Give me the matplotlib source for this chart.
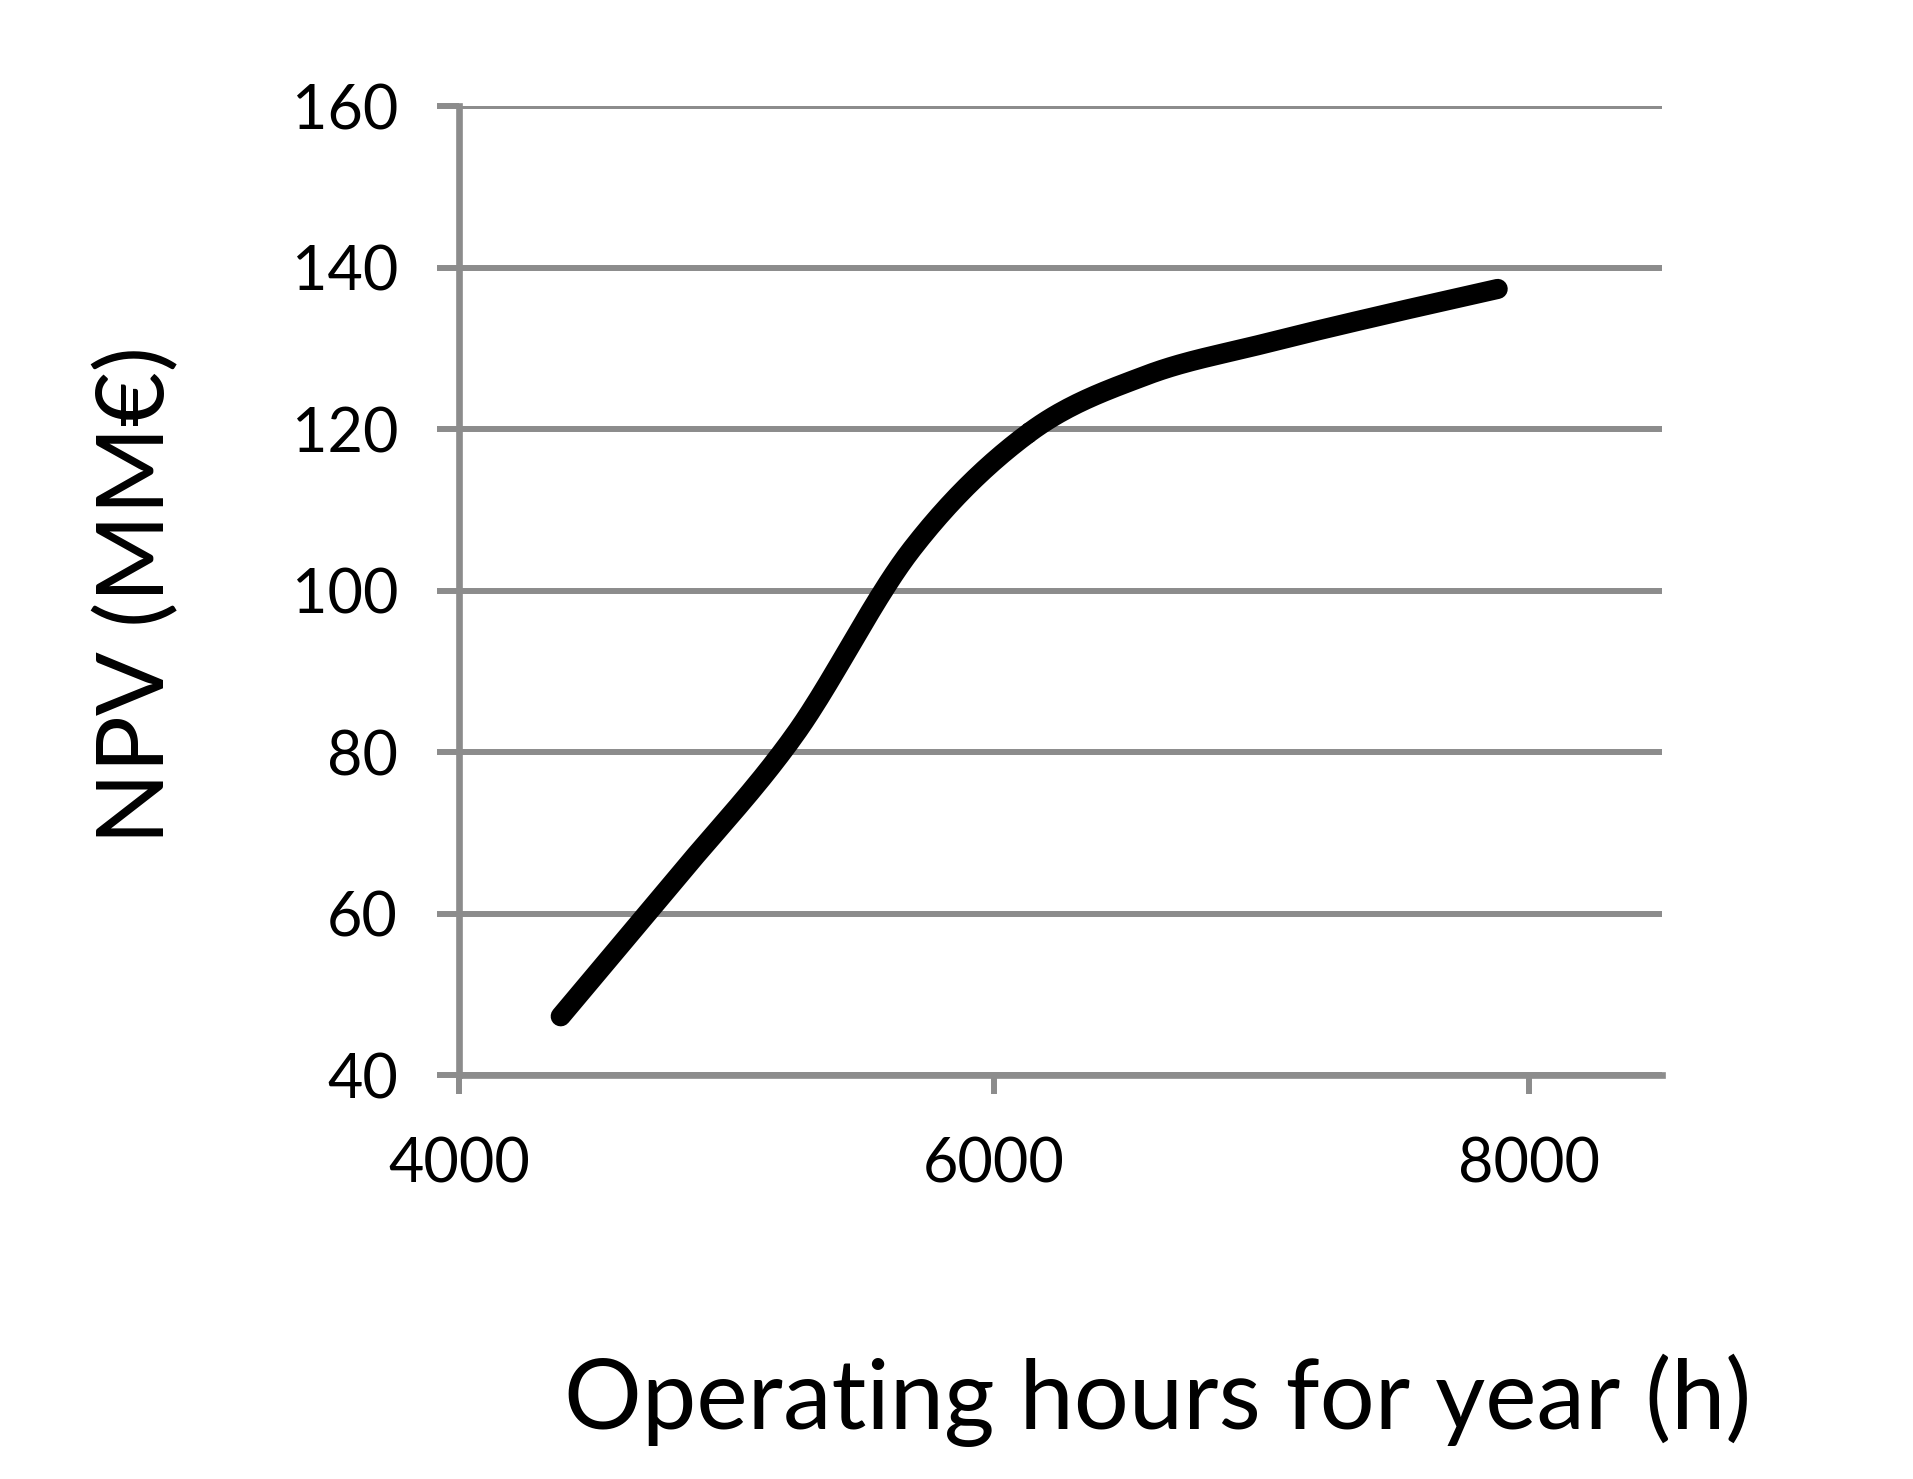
import numpy as np
import matplotlib.pyplot as plt

# Operating hours per year (fractions of 8760 h) and NPV
hours = [4380, 4818, 5256, 5694, 6132, 6570, 7008, 7446, 7884]
npv = [47.3, 64.6, 82.2, 105.2, 119.6, 126.7, 130.6, 134.1, 137.4]


def smooth(x, y, n=40):
    # Catmull-Rom curve through the points, like a spreadsheet "smoothed line"
    x = np.asarray(x, float)
    y = np.asarray(y, float)
    px = np.concatenate([[2 * x[0] - x[1]], x, [2 * x[-1] - x[-2]]])
    py = np.concatenate([[2 * y[0] - y[1]], y, [2 * y[-1] - y[-2]]])
    xs, ys = [], []
    t = np.linspace(0, 1, n)
    for i in range(1, len(px) - 2):
        for p, out in ((px, xs), (py, ys)):
            p0, p1, p2, p3 = p[i - 1], p[i], p[i + 1], p[i + 2]
            out.extend(0.5 * (2 * p1 + (-p0 + p2) * t
                              + (2 * p0 - 5 * p1 + 4 * p2 - p3) * t ** 2
                              + (-p0 + 3 * p1 - 3 * p2 + p3) * t ** 3))
    return np.array(xs), np.array(ys)


plt.rcParams['font.family'] = ['Lato', 'DejaVu Sans']
grey = '#8c8c8c'

fig = plt.figure(figsize=(19.13, 14.79), dpi=100)
ax = fig.add_axes([0.240, 0.273, 0.629, 0.655])

sx, sy = smooth(hours, npv)
ax.plot(sx, sy, color='black', lw=14.5, solid_capstyle='round', zorder=3)

ax.set_xlim(4000, 8500)
ax.set_ylim(40, 160)
ax.set_xticks([4000, 6000, 8000])
ax.set_yticks(np.arange(40, 161, 20))
ax.yaxis.grid(True, color=grey, lw=4.3)
ax.set_axisbelow(True)

for s in ['top', 'right']:
    ax.spines[s].set_visible(False)
for s in ['left', 'bottom']:
    ax.spines[s].set_color(grey)
    ax.spines[s].set_linewidth(4.8)
    ax.spines[s].set_zorder(2)

ax.tick_params(axis='y', direction='out', length=16, width=4.3, color=grey,
               labelsize=44, pad=28)
ax.tick_params(axis='x', direction='out', length=14, width=4.3, color=grey,
               labelsize=44, pad=30)

fig.text(0.072, 0.598, 'NPV (MM€)', rotation=90, ha='center', va='center', fontsize=68)
fig.text(0.605, 0.053, 'Operating hours for year (h)', ha='center', va='center', fontsize=70)

fig.savefig('out.png', dpi=100, facecolor='white')
